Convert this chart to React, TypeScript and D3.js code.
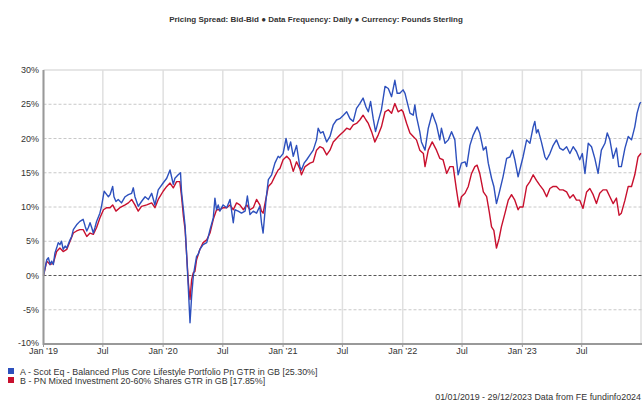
import React from 'react';
import * as d3 from 'd3';

// series A: Scot Eq - Balanced Plus Core Lifestyle Portfolio (days since 01/01/2019, % growth)
const daysA = [
  0, 10, 15, 20, 25, 30, 35, 40, 45, 50, 55, 60, 66, 71, 81, 86, 91, 101, 111, 121,
  127, 132, 137, 142, 147, 152, 157, 162, 172, 177, 185, 193, 198, 203, 211, 215, 221, 228, 238, 249,
  259, 269, 274, 279, 289, 299, 310, 320, 330, 340, 350,
  365, 376, 386, 396, 401, 411, 418, 421, 427, 432, 437, 442, 447, 452, 457, 462, 467, 472, 477, 487,
  498, 503, 508, 518, 523, 528, 533, 538, 548, 559, 569, 579, 584, 594, 604, 615, 622, 630, 640, 650,
  660, 665, 670, 679, 686, 696, 706, 716,
  721, 731, 740, 747, 754, 762, 772, 782, 787, 795, 803, 813, 823, 833, 838, 845, 853, 864, 874, 884,
  894, 904, 915, 925, 935, 945, 955, 965, 975, 984, 991, 998, 1006, 1013, 1021, 1031, 1042, 1052, 1062, 1072, 1079,
  1087, 1097, 1103, 1108, 1118, 1128, 1133, 1138, 1148, 1153, 1164, 1174, 1186, 1199, 1209, 1214, 1225, 1235, 1245, 1255,
  1260, 1265, 1275, 1286, 1291, 1301, 1311, 1323, 1331, 1342, 1350, 1357, 1367, 1374, 1382, 1390, 1402, 1413, 1423, 1431,
  1438, 1448,
  1453, 1463, 1474, 1484, 1494, 1499, 1504, 1509, 1519, 1530, 1535, 1545, 1555, 1565, 1575, 1585, 1596, 1606, 1616, 1626,
  1636, 1644, 1652, 1662, 1672, 1682, 1692, 1702, 1713, 1720, 1728, 1738, 1748, 1755, 1763, 1774, 1784, 1794, 1804, 1811,
  1819, 1823,
];
const valuesA = [
  0, 2.3, 2.6, 1.6, 2.1, 1.6, 3.3, 4.0, 4.8, 4.5, 5.0, 3.8, 4.3, 4.0, 5.2, 5.7, 6.7, 7.4, 7.9, 8.2,
  7.2, 6.5, 7.0, 7.7, 7.0, 6.2, 7.0, 7.9, 9.1, 10.1, 12.3, 11.8, 11.5, 11.8, 13.0, 11.5, 10.8, 11.1, 10.6, 11.5,
  11.8, 12.0, 12.8, 11.5, 10.1, 10.8, 11.5, 11.1, 12.0, 10.3, 12.5,
  13.5, 14.2, 15.4, 13.3, 14.2, 14.7, 15.0, 12.3, 9.6, 7.2, 2.8, -2.0, -6.9, -3.0, -0.1, 1.4, 2.8, 3.1, 3.8, 4.5,
  4.8, 5.7, 6.7, 8.4, 11.3, 9.6, 10.3, 9.4, 10.3, 9.9, 11.1, 7.7, 9.6, 9.4, 9.1, 9.4, 11.6, 8.9, 9.4, 9.1,
  10.1, 7.7, 6.2, 11.1, 14.0, 14.7, 16.4, 17.4,
  17.2, 17.8, 20.0, 18.3, 19.5, 17.4, 19.0, 15.9, 15.4, 16.4, 16.9, 17.6, 18.3, 19.8, 21.5, 20.8, 21.0, 19.5, 20.3, 22.0,
  22.7, 22.9, 23.4, 23.9, 22.9, 22.5, 24.4, 25.1, 25.9, 24.6, 23.9, 25.4, 22.9, 21.0, 22.5, 24.2, 27.6, 27.3, 26.1, 28.5, 26.6,
  26.6, 27.1, 26.6, 25.6, 23.7, 23.4, 24.9, 23.2, 21.0, 19.5, 18.3, 21.5, 23.7, 22.0, 19.8, 21.5, 19.3, 19.8, 21.0, 19.8,
  16.9, 14.7, 16.4, 16.6, 15.9, 19.0, 20.5, 21.7, 20.8, 18.3, 18.8, 16.4, 14.2, 13.0, 10.5, 12.0, 14.4, 17.1, 17.3, 18.3,
  16.9, 14.4,
  15.4, 17.3, 19.8, 19.3, 21.7, 22.5, 20.8, 21.3, 19.5, 17.3, 16.9, 17.8, 19.0, 19.8, 18.6, 18.3, 18.8, 17.8, 18.8, 18.1,
  16.9, 17.8, 14.9, 19.3, 18.8, 17.1, 14.9, 18.3, 19.3, 20.8, 19.8, 17.1, 18.6, 15.9, 15.9, 18.6, 20.3, 19.8, 21.7, 23.7,
  25.1, 25.3,
];

// series B: PN Mixed Investment 20-60% Shares
const daysB = [
  0, 10, 20, 30, 40, 50, 60, 71, 81, 91, 101, 111, 121, 132, 142, 152, 162, 172, 183, 193,
  203, 211, 221, 233, 249, 259, 269, 279, 289, 299, 315, 330, 340, 350,
  365, 376, 386, 396, 406, 416, 421, 427, 432, 437, 442, 447, 452, 457, 462, 467, 477, 487, 498, 508,
  518, 528, 538, 548, 559, 569, 579, 589, 599, 610, 620, 630, 640, 650, 660, 665, 670, 679, 686, 696,
  706, 716,
  721, 731, 742, 752, 762, 772, 782, 787, 798, 813, 823, 833, 843, 853, 864, 874, 884, 894, 904, 915,
  925, 935, 945, 955, 965, 975, 984, 991, 1001, 1011, 1021, 1031, 1042, 1052, 1062, 1072, 1082,
  1092, 1097, 1108, 1118, 1128, 1138, 1148, 1159, 1164, 1174, 1186, 1199, 1209, 1219, 1230, 1240, 1250, 1260, 1268, 1275,
  1286, 1296, 1306, 1316, 1323, 1331, 1342, 1352, 1360, 1367, 1374, 1382, 1390, 1397, 1408, 1418, 1428, 1438, 1448,
  1453, 1463, 1474, 1484, 1494, 1504, 1514, 1525, 1535, 1545, 1555, 1565, 1575, 1585, 1596, 1606, 1616, 1626, 1636, 1646,
  1657, 1667, 1677, 1687, 1697, 1707, 1718, 1728, 1738, 1748, 1756, 1763, 1774, 1784, 1794, 1804, 1814, 1823,
];
const valuesB = [
  0, 2.1, 1.6, 1.8, 3.5, 4.0, 3.5, 3.8, 5.0, 6.2, 6.5, 6.7, 6.7, 5.7, 6.2, 6.0, 7.0, 8.4, 9.6, 9.9,
  9.9, 10.3, 9.4, 9.9, 10.3, 10.6, 11.1, 10.3, 9.4, 10.1, 10.3, 10.6, 9.9, 11.1,
  12.3, 13.0, 13.5, 12.8, 13.7, 13.7, 11.6, 8.6, 6.7, 2.8, -1.1, -3.5, -0.6, 0.4, 0.6, 2.3, 3.8, 4.8, 5.2, 6.2,
  8.2, 9.6, 9.6, 9.9, 9.9, 10.3, 9.6, 10.6, 10.3, 9.6, 10.3, 9.6, 9.9, 11.1, 10.3, 9.4, 9.1, 11.3, 13.0, 13.5,
  14.5, 15.4,
  15.6, 16.9, 17.4, 16.9, 15.2, 16.6, 15.6, 14.7, 15.9, 16.4, 16.6, 18.3, 18.8, 18.6, 17.6, 18.3, 19.5, 20.0, 20.5, 21.0,
  21.5, 21.3, 22.0, 22.2, 22.7, 23.4, 22.7, 22.2, 21.0, 19.5, 20.5, 21.7, 23.9, 24.2, 23.7, 25.1, 23.9,
  24.2, 23.9, 22.2, 20.8, 20.3, 19.8, 18.3, 17.8, 15.9, 18.3, 19.5, 18.3, 17.1, 16.9, 14.9, 15.9, 15.9, 12.5, 10.0, 11.5,
  12.0, 13.0, 14.9, 15.9, 16.1, 14.9, 12.2, 11.5, 9.3, 7.1, 6.6, 4.0, 5.4, 7.1, 9.1, 11.0, 11.8, 11.0, 9.6,
  10.0, 10.0, 13.0, 13.7, 14.7, 13.9, 13.2, 12.5, 11.5, 12.7, 13.0, 13.0, 12.5, 12.5, 12.2, 11.3, 11.8, 11.0, 11.0, 9.8,
  12.2, 12.7, 11.8, 10.5, 12.0, 12.5, 12.5, 11.5, 10.5, 11.3, 8.8, 9.1, 11.0, 13.0, 13.0, 14.7, 17.3, 17.85,
];

const yTicks = [30, 25, 20, 15, 10, 5, 0, -5, -10];
const legendLabels = [
  'A - Scot Eq - Balanced Plus Core Lifestyle Portfolio Pn GTR in GB [25.30%]',
  'B - PN Mixed Investment 20-60% Shares GTR in GB [17.85%]',
];
const title = 'Pricing Spread: Bid-Bid \u25CF Data Frequency: Daily \u25CF Currency: Pounds Sterling';
const footer = '01/01/2019 - 29/12/2023 Data from FE fundinfo2024';

const colors = ['#2d50bd', '#c8102e'];
const font = '"Liberation Sans", Arial, sans-serif';

const start = new Date(2019, 0, 1);

export default function App() {
  const width = 642;
  const height = 402;
  const left = 43.5;
  const right = 642;
  const top = 70;
  const bottom = 344;

  const x = d3.scaleTime().domain([start, new Date(2024, 0, 1)]).range([left, right]);
  const y = d3.scaleLinear().domain([-10, 30]).range([bottom, top]);

  const line = d3.line<[number, number]>()
    .x(d => x(d3.timeDay.offset(start, d[0])))
    .y(d => y(d[1]));

  const seriesA = daysA.map((d, i) => [d, valuesA[i]] as [number, number]);
  const seriesB = daysB.map((d, i) => [d, valuesB[i]] as [number, number]);

  const xTicks = d3.timeMonth.every(6)!.range(start, new Date(2024, 0, 1));
  const fmt = (d: Date) => (d.getMonth() === 0 ? `Jan \u2019${d3.timeFormat('%y')(d)}` : 'Jul');

  return (
    <svg width={width} height={height} style={{ position: 'absolute', left: 0, top: 0, background: '#fff' }}
      fontFamily={font}>
      <rect width={width} height={height} fill="#fff" />
      <text x={316} y={22} textAnchor="middle" fontSize={8} fontWeight="bold" fill="#333">{title}</text>

      {/* vertical grid */}
      {xTicks.map((t, i) => (
        <line key={'vg' + i} x1={x(t)} x2={x(t)} y1={top} y2={bottom} stroke="#e0e0e0" strokeWidth={1.5} />
      ))}
      <line x1={right - 1} x2={right - 1} y1={top} y2={bottom} stroke="#e0e0e0" strokeWidth={1.5} />
      <line x1={left} x2={right} y1={top} y2={top} stroke="#dedede" strokeWidth={1.5} />

      {/* horizontal grid */}
      {yTicks.filter(v => v !== 0 && v !== -10 && v !== 30).map(v => (
        <line key={'hg' + v} x1={left} x2={right} y1={y(v)} y2={y(v)} stroke="#c8c8c8" strokeDasharray="3,2" strokeWidth={1} />
      ))}
      <line x1={left} x2={right} y1={y(0)} y2={y(0)} stroke="#555" strokeDasharray="3,2" strokeWidth={1} />

      {/* series */}
      <path d={line(seriesB) ?? ''} fill="none" stroke={colors[1]} strokeWidth={1.4} strokeLinejoin="round" />
      <path d={line(seriesA) ?? ''} fill="none" stroke={colors[0]} strokeWidth={1.4} strokeLinejoin="round" />

      {/* axes */}
      <line x1={left} x2={left} y1={top} y2={bottom + 1} stroke="#999" strokeWidth={2} />
      <line x1={left} x2={right} y1={bottom} y2={bottom} stroke="#999" strokeWidth={2} />
      {xTicks.map((t, i) => (
        <line key={'xt' + i} x1={x(t)} x2={x(t)} y1={bottom} y2={bottom + 3} stroke="#999" strokeWidth={1} />
      ))}

      {yTicks.map(v => (
        <text key={'yl' + v} x={39} y={y(v) + (v === -10 ? 1.5 : 3)} textAnchor="end" fontSize={9} fill="#333">{v}%</text>
      ))}
      {xTicks.map((t, i) => (
        <text key={'xl' + i} x={x(t)} y={354} textAnchor="middle" fontSize={9} fill="#333">{fmt(t)}</text>
      ))}

      {legendLabels.map((l, i) => (
        <g key={'lg' + i}>
          <rect x={8} y={368 + i * 9} width={6} height={6} fill={colors[i]} />
          <text x={20} y={374.5 + i * 9} fontSize={8.9} fill="#333">{l}</text>
        </g>
      ))}

      <text x={641} y={400} textAnchor="end" fontSize={8.9} fill="#333">{footer}</text>
    </svg>
  );
}
